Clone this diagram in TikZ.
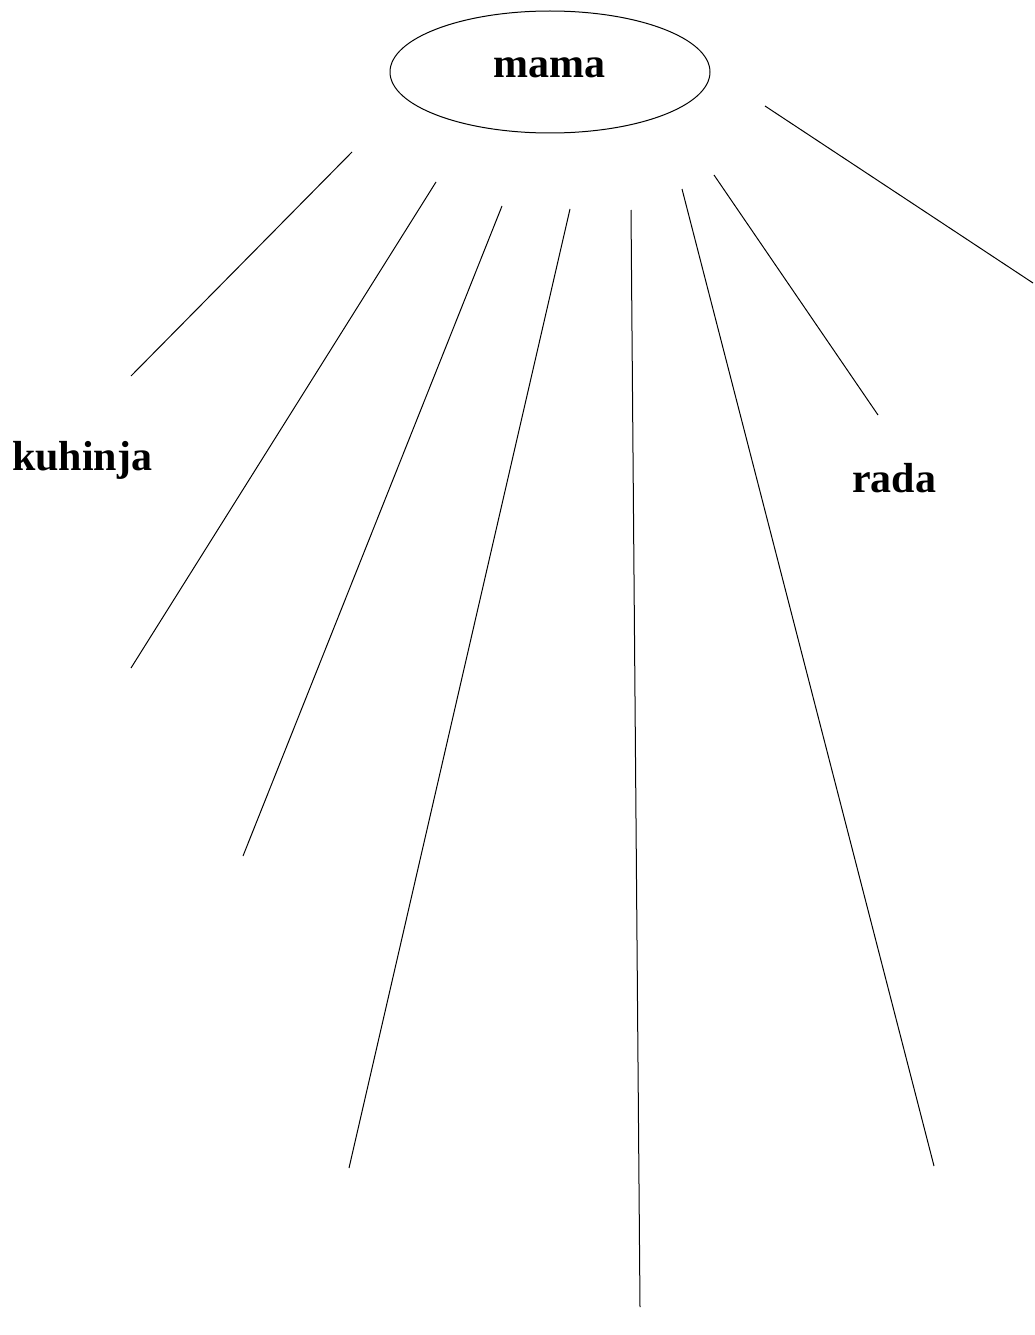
\documentclass[tikz,border=0pt]{standalone}
\usepackage{fontspec}
\setmainfont{Liberation Serif}
\usetikzlibrary{shapes.geometric}
\begin{document}
\begin{tikzpicture}[x=1pt,y=-1pt,
  lbl/.style={font=\fontsize{42}{48}\selectfont\bfseries, inner sep=0pt, anchor=base west},
  ray/.style={line width=1pt}]
\useasboundingbox (0,0) rectangle (1034,1335);
\draw[line width=1pt] (550,72) ellipse [x radius=160, y radius=61];
\node[lbl] (mama) at (493,78) {mama};
\node[lbl] (kuhinja) at (12,470) {kuhinja};
\node[lbl] (rada) at (852,492) {rada};
\coordinate (s1) at (352,152); \coordinate (e1) at (131,376);
\coordinate (s2) at (436,182); \coordinate (e2) at (131,668);
\coordinate (s3) at (502,206); \coordinate (e3) at (243,856);
\coordinate (s4) at (570,209); \coordinate (e4) at (349,1168);
\coordinate (s5) at (631,210); \coordinate (e5) at (640,1307);
\coordinate (s6) at (682,189); \coordinate (e6) at (934,1166);
\coordinate (s7) at (714,175); \coordinate (e7) at (878,415);
\coordinate (s8) at (765,106); \coordinate (e8) at (1033,283);
\foreach \i in {1,...,8} \draw[ray] (s\i) -- (e\i);
\end{tikzpicture}
\end{document}
